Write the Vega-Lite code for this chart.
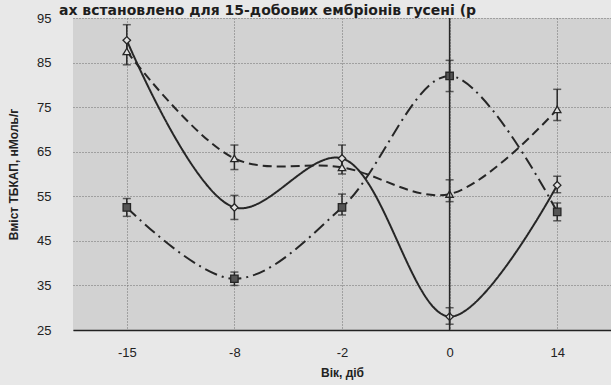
{
  "$schema": "https://vega.github.io/schema/vega-lite/v6.json",
  "width": 538,
  "height": 312,
  "autosize": {"type": "none"},
  "padding": {"left": 73, "top": 18, "right": 0, "bottom": 55},
  "background": "#e8e8e8",
  "title": {
    "text": "ах встановлено для 15-добових ембріонів гусені (р",
    "anchor": "start",
    "frame": "group",
    "dx": -14,
    "dy": 21,
    "offset": 4,
    "baseline": "alphabetic",
    "font": "DejaVu Sans",
    "fontSize": 14,
    "fontWeight": "bold",
    "color": "#1e1e1e"
  },
  "config": {
    "view": {"stroke": null, "fill": "#d2d2d2"},
    "font": "Liberation Sans",
    "axis": {
      "grid": true,
      "gridColor": "#6e6e6e",
      "gridDash": [1, 2],
      "gridWidth": 1,
      "ticks": false,
      "labelColor": "#222222",
      "labelFontSize": 13,
      "labelFont": "Liberation Sans",
      "titleFont": "Liberation Sans",
      "titleFontWeight": "bold",
      "titleFontSize": 12,
      "titleColor": "#222222"
    }
  },
  "data": {
    "values": [
      {"day": "-15", "series": "A", "value": 90, "lo": 87, "hi": 93.5},
      {"day": "-8", "series": "A", "value": 52.5, "lo": 49.8, "hi": 55.2},
      {"day": "-2", "series": "A", "value": 63.5, "lo": 61, "hi": 66.5},
      {"day": "0", "series": "A", "value": 28, "lo": 26.3, "hi": 30},
      {"day": "14", "series": "A", "value": 57.5, "lo": 55.8, "hi": 59.5},
      {"day": "-15", "series": "B", "value": 87.5, "lo": 84.5, "hi": 90},
      {"day": "-8", "series": "B", "value": 63.5, "lo": 61, "hi": 66.5},
      {"day": "-2", "series": "B", "value": 61.5, "lo": 60, "hi": 63.5},
      {"day": "0", "series": "B", "value": 55.5, "lo": 53.8, "hi": 58.7},
      {"day": "14", "series": "B", "value": 74.5, "lo": 72, "hi": 79},
      {"day": "-15", "series": "C", "value": 52.5, "lo": 50.5, "hi": 54.5},
      {"day": "-8", "series": "C", "value": 36.5, "lo": 35, "hi": 38},
      {"day": "-2", "series": "C", "value": 52.5, "lo": 50.8, "hi": 55.5},
      {"day": "0", "series": "C", "value": 82, "lo": 78.5, "hi": 85.5},
      {"day": "14", "series": "C", "value": 51.5, "lo": 49.5, "hi": 53.5}
    ]
  },
  "encoding": {
    "x": {
      "field": "day",
      "type": "ordinal",
      "sort": ["-15", "-8", "-2", "0", "14"],
      "scale": {"type": "point", "padding": 0.5},
      "axis": {
        "title": "Вік, діб",
        "labelAngle": 0,
        "labelPadding": 16,
        "titlePadding": 8,
        "domain": true,
        "domainColor": "#222222",
        "domainWidth": 1.5
      }
    }
  },
  "layer": [
    {
      "mark": {"type": "line", "interpolate": "catmull-rom", "strokeWidth": 2, "color": "#262626"},
      "encoding": {
        "y": {
          "field": "value",
          "type": "quantitative",
          "scale": {"domain": [25, 95], "nice": false, "zero": false},
          "axis": {
            "title": "Вміст ТБКАП, нМоль/г",
            "values": [25, 35, 45, 55, 65, 75, 85, 95],
            "domain": false,
            "labelPadding": 22,
            "titlePadding": 16
          }
        },
        "strokeDash": {
          "field": "series",
          "type": "nominal",
          "scale": {"domain": ["A", "B", "C"], "range": [[1, 0], [9, 5], [13, 5, 2, 5]]},
          "legend": null
        },
        "detail": {"field": "series"}
      }
    },
    {
      "mark": {"type": "rule", "color": "#262626", "strokeWidth": 1.5},
      "encoding": {
        "y": {"field": "lo", "type": "quantitative"},
        "y2": {"field": "hi"}
      }
    },
    {
      "mark": {"type": "tick", "color": "#262626", "size": 8, "thickness": 1.5},
      "encoding": {"y": {"field": "lo", "type": "quantitative"}}
    },
    {
      "mark": {"type": "tick", "color": "#262626", "size": 8, "thickness": 1.5},
      "encoding": {"y": {"field": "hi", "type": "quantitative"}}
    },
    {
      "mark": {"type": "point", "filled": true, "strokeWidth": 1.3, "stroke": "#262626", "opacity": 1},
      "encoding": {
        "y": {"field": "value", "type": "quantitative"},
        "shape": {
          "field": "series",
          "type": "nominal",
          "scale": {"domain": ["A", "B", "C"], "range": ["diamond", "triangle-up", "square"]},
          "legend": null
        },
        "fill": {
          "field": "series",
          "type": "nominal",
          "scale": {"domain": ["A", "B", "C"], "range": ["#e0e0e0", "#e0e0e0", "#555555"]},
          "legend": null
        },
        "size": {"value": 55}
      }
    },
    {
      "data": {"values": [{"day": "0"}]},
      "mark": {"type": "rule", "color": "#262626", "strokeWidth": 1.5},
      "encoding": {}
    }
  ]
}
